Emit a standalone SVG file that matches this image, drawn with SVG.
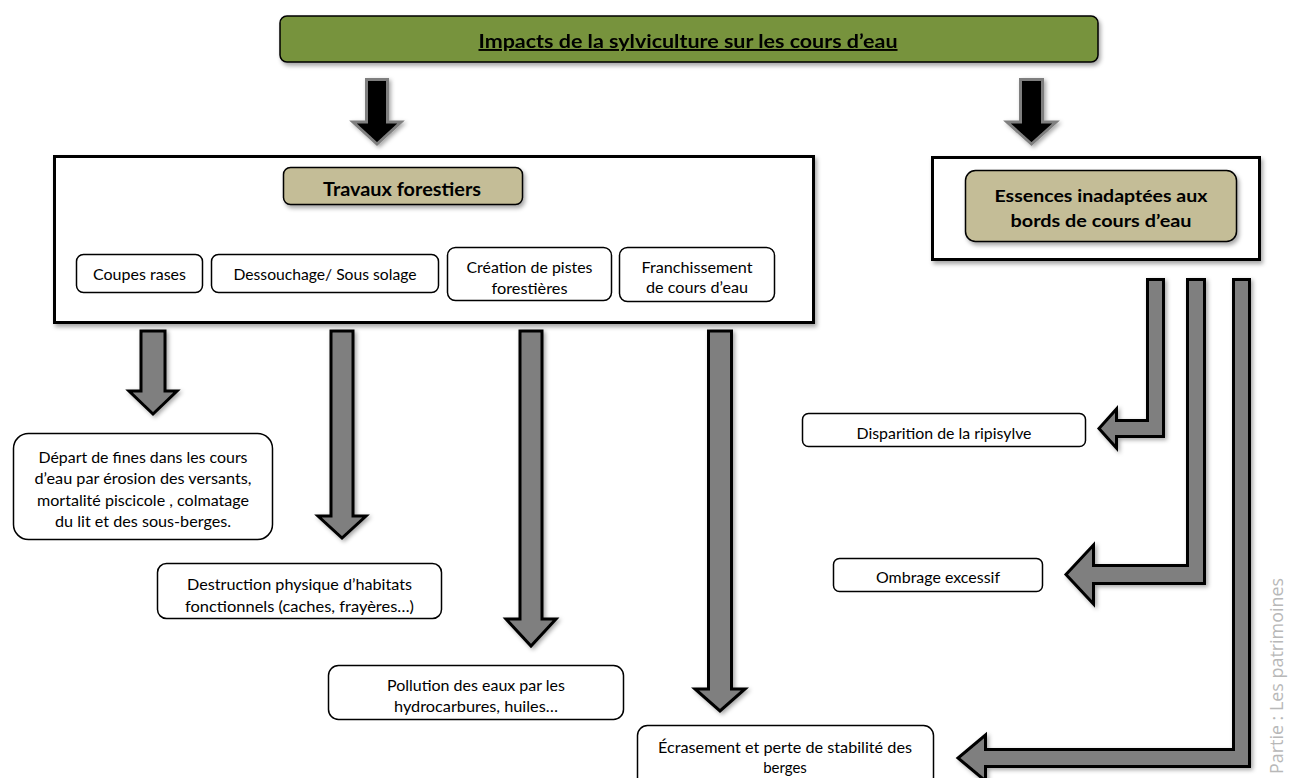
<svg xmlns="http://www.w3.org/2000/svg" width="1300" height="778" viewBox="0 0 1300 778">
<defs>
<filter id="sh" x="-10%" y="-10%" width="130%" height="140%">
<feDropShadow dx="2" dy="3" stdDeviation="2" flood-color="#000" flood-opacity="0.35"/>
</filter>
<filter id="shA" x="-30%" y="-10%" width="160%" height="130%">
<feDropShadow dx="2" dy="2" stdDeviation="2" flood-color="#000" flood-opacity="0.35"/>
</filter>
<style>
.t{font-family:Lato,"Open Sans","Liberation Sans",sans-serif;fill:#000;text-anchor:middle}
.r{font-size:15px}
.b{font-size:18px;font-weight:bold}
.box{fill:#fff;stroke:#000;stroke-width:1.5}
.big{fill:#fff;stroke:#000;stroke-width:3}
.tan{fill:#C4BD97;stroke:#000;stroke-width:1.5}
.ga{fill:#7F7F7F;stroke:#000;stroke-width:3;stroke-linejoin:miter}
.ba{fill:#000;stroke:#7F7F7F;stroke-width:3;stroke-linejoin:miter}
</style>
</defs>
<rect width="1300" height="778" fill="#fff"/>

<g id="title" filter="url(#sh)">
<rect x="280" y="16" width="818" height="46" rx="7" fill="#77933C" stroke="#000" stroke-width="1.5"/>
<text class="t" x="688" y="48" font-size="19" font-weight="bold" text-decoration="underline" textLength="419" lengthAdjust="spacingAndGlyphs">Impacts de la sylviculture sur les cours d’eau</text>
</g>

<g id="travaux">
<rect class="big" x="54.5" y="156.5" width="759" height="166" filter="url(#sh)"/>
<rect class="tan" x="283.5" y="167.5" width="239" height="37" rx="7" filter="url(#sh)"/>
<text class="t b" x="402" y="196" textLength="158" lengthAdjust="spacingAndGlyphs">Travaux forestiers</text>
</g>

<g id="coupes">
<rect class="box" x="76.5" y="254.5" width="126" height="38" rx="7"/>
<text class="t r" x="139.5" y="280" textLength="93" lengthAdjust="spacingAndGlyphs">Coupes rases</text>
</g>
<g id="dessouchage">
<rect class="box" x="211.5" y="254.5" width="227" height="38" rx="7"/>
<text class="t r" x="325" y="280" textLength="183" lengthAdjust="spacingAndGlyphs">Dessouchage/ Sous solage</text>
</g>
<g id="creation">
<rect class="box" x="447.5" y="247.5" width="164" height="53" rx="8"/>
<text class="t r" x="529.5" y="273" textLength="126" lengthAdjust="spacingAndGlyphs">Création de pistes</text>
<text class="t r" x="529.5" y="294" textLength="76" lengthAdjust="spacingAndGlyphs">forestières</text>
</g>
<g id="franchissement">
<rect class="box" x="619.5" y="247.5" width="155" height="54" rx="8"/>
<text class="t r" x="697" y="273" textLength="111" lengthAdjust="spacingAndGlyphs">Franchissement</text>
<text class="t r" x="697" y="293" textLength="102" lengthAdjust="spacingAndGlyphs">de cours d’eau</text>
</g>

<g id="essences">
<rect class="big" x="932.5" y="157.5" width="327" height="102" filter="url(#sh)"/>
<rect class="tan" x="965.5" y="170.5" width="271" height="71" rx="10" filter="url(#sh)"/>
<text class="t" x="1101" y="202" font-size="17" font-weight="bold" textLength="213" lengthAdjust="spacingAndGlyphs">Essences inadaptées aux</text>
<text class="t" x="1101" y="227" font-size="17" font-weight="bold" textLength="181" lengthAdjust="spacingAndGlyphs">bords de cours d’eau</text>
</g>

<g id="depart">
<rect class="box" x="13.5" y="433.5" width="259" height="106" rx="15"/>
<text class="t r" x="143" y="463" textLength="209" lengthAdjust="spacingAndGlyphs">Départ de fines dans les cours</text>
<text class="t r" x="143" y="484" textLength="217" lengthAdjust="spacingAndGlyphs">d’eau par érosion des versants,</text>
<text class="t r" x="143" y="506" textLength="212" lengthAdjust="spacingAndGlyphs">mortalité piscicole , colmatage</text>
<text class="t r" x="143" y="527" textLength="176" lengthAdjust="spacingAndGlyphs">du lit et des sous-berges.</text>
</g>
<g id="destruction">
<rect class="box" x="157.5" y="563.5" width="284" height="55" rx="9"/>
<text class="t r" x="299.5" y="590" textLength="225" lengthAdjust="spacingAndGlyphs">Destruction physique d’habitats</text>
<text class="t r" x="299.5" y="612" textLength="229" lengthAdjust="spacingAndGlyphs">fonctionnels (caches, frayères…)</text>
</g>
<g id="pollution">
<rect class="box" x="328.5" y="665.5" width="295" height="54" rx="10"/>
<text class="t r" x="476" y="691" textLength="178" lengthAdjust="spacingAndGlyphs">Pollution des eaux par les</text>
<text class="t r" x="476" y="712" textLength="164" lengthAdjust="spacingAndGlyphs">hydrocarbures, huiles…</text>
</g>
<g id="ecrasement">
<rect class="box" x="637.5" y="725.5" width="296" height="62" rx="10"/>
<text class="t r" x="785" y="753" textLength="254" lengthAdjust="spacingAndGlyphs">Écrasement et perte de stabilité des</text>
<text class="t r" x="785" y="773">berges</text>
</g>
<g id="disparition">
<rect class="box" x="802.5" y="413.5" width="283" height="33" rx="6"/>
<text class="t r" x="944" y="439" textLength="175" lengthAdjust="spacingAndGlyphs">Disparition de la ripisylve</text>
</g>
<g id="ombrage">
<rect class="box" x="833.5" y="558.5" width="209" height="33" rx="6"/>
<text class="t r" x="938" y="583" textLength="124" lengthAdjust="spacingAndGlyphs">Ombrage excessif</text>
</g>

<g id="connectors">
<path class="ba" filter="url(#shA)" d="M366.5,79.5 L387.5,79.5 L387.5,122 L401,122 L377,144 L353,122 L366.5,122 Z"/>
<path class="ba" filter="url(#shA)" d="M1020.5,79.5 L1042.5,79.5 L1042.5,122 L1056,122 L1031.5,144 L1007,122 L1020.5,122 Z"/>
<path class="ga" filter="url(#shA)" d="M141,331 L165,331 L165,391 L177,391 L153,414 L129,391 L141,391 Z"/>
<path class="ga" filter="url(#shA)" d="M331,331 L353,331 L353,516 L366,516 L342,538 L318,516 L331,516 Z"/>
<path class="ga" filter="url(#shA)" d="M520,331 L542,331 L542,619 L556,619 L531,646 L506,619 L520,619 Z"/>
<path class="ga" filter="url(#shA)" d="M708.5,331 L731.5,331 L731.5,689 L745,689 L720,711 L695,689 L708.5,689 Z"/>
<path class="ga" filter="url(#shA)" d="M1147.5,279.5 L1163.5,279.5 L1163.5,436.5 L1116.5,436.5 L1116.5,448 L1099,428.5 L1116.5,409 L1116.5,420.5 L1147.5,420.5 Z"/>
<path class="ga" filter="url(#shA)" d="M1187.5,279.5 L1204.5,279.5 L1204.5,583.5 L1093.5,583.5 L1093.5,604 L1066,574.5 L1093.5,545 L1093.5,565.5 L1187.5,565.5 Z"/>
<path class="ga" filter="url(#shA)" d="M1233.5,279.5 L1249.5,279.5 L1249.5,766.5 L985.5,766.5 L985.5,781 L958,758 L985.5,735 L985.5,749.5 L1233.5,749.5 Z"/>
</g>

<text x="1283" y="578" transform="rotate(-90 1283 578)" font-family="'Open Sans','Liberation Sans',sans-serif" font-size="18" fill="#B8B8B8" text-anchor="end" textLength="196" lengthAdjust="spacingAndGlyphs">Partie : Les patrimoines</text>
</svg>
